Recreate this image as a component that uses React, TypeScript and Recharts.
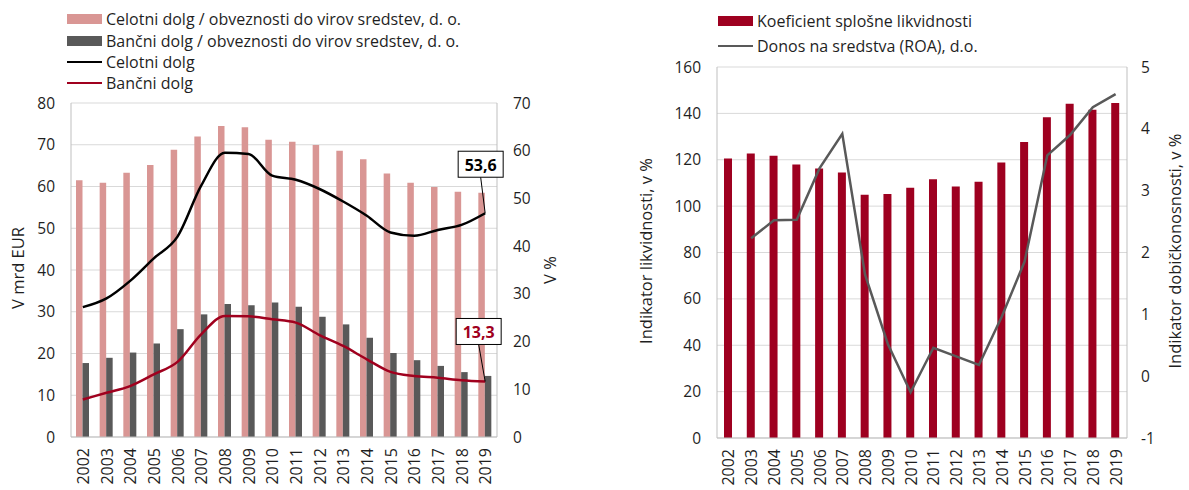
import { ComposedChart, Bar, Line, XAxis, YAxis, CartesianGrid, LabelList, Label } from 'recharts';

const years = ['2002', '2003', '2004', '2005', '2006', '2007', '2008', '2009', '2010', '2011', '2012', '2013', '2014', '2015', '2016', '2017', '2018', '2019'];

// left panel: bars in %, lines in mrd EUR
const celotniRatio = [53.8, 53.3, 55.4, 57.0, 60.2, 63.0, 65.2, 64.9, 62.3, 61.9, 61.2, 60.0, 58.2, 55.2, 53.3, 52.4, 51.4, 51.2];
const bancniRatio = [15.5, 16.6, 17.7, 19.6, 22.6, 25.7, 27.9, 27.6, 28.2, 27.3, 25.2, 23.6, 20.8, 17.6, 16.1, 14.9, 13.6, 12.8];
const celotniDolg = [31.1, 33.2, 37.4, 42.8, 48.0, 60.2, 68.1, 67.8, 62.6, 61.6, 59.4, 56.4, 53.0, 49.0, 48.2, 49.6, 50.8, 53.6];
const bancniDolg = [9.0, 10.6, 12.2, 15.0, 18.0, 24.6, 29.0, 28.9, 28.2, 27.4, 24.4, 21.8, 18.6, 15.6, 14.6, 14.2, 13.6, 13.3];

// right panel
const likvidnost = [120.5, 122.7, 121.7, 118.0, 116.2, 114.5, 104.9, 105.2, 107.9, 111.6, 108.5, 110.5, 118.8, 127.7, 138.3, 144.2, 141.6, 144.5];
const roa = [null, 2.23, 2.52, 2.53, 3.36, 3.92, 1.64, 0.52, -0.26, 0.46, 0.32, 0.18, 0.96, 1.85, 3.57, 3.9, 4.35, 4.56];

const leftTicks = [0, 10, 20, 30, 40, 50, 60, 70, 80];
const pctTicks = [0, 10, 20, 30, 40, 50, 60, 70];
const likTicks = [0, 20, 40, 60, 80, 100, 120, 140, 160];
const roaTicks = [-1, 0, 1, 2, 3, 4, 5];

const leftData = years.map((y, i) => ({
  year: y,
  celotniRatio: celotniRatio[i],
  bancniRatio: bancniRatio[i],
  celotniDolg: celotniDolg[i],
  bancniDolg: bancniDolg[i],
}));

const rightData = years.map((y, i) => ({ year: y, likvidnost: likvidnost[i], roa: roa[i] }));

const FONT = '"Open Sans", sans-serif';
const TXT = '#1f1f1f';
const GRID = '#d9d9d9';
const FRAME = '#bfbfbf';

const YearTick = (props: any) => {
  const { x, y, payload } = props;
  return (
    <g transform={`translate(${x},${y})`}>
      <text transform="rotate(-90)" x={-3} y={0} textAnchor="end" dominantBaseline="central"
        fontSize={16} fontFamily={FONT} fill={TXT}>
        {payload.value}
      </text>
    </g>
  );
};

const axisTitle = (text: string, cx: number, cy: number) => (props: any) => {
  return (
    <text x={cx} y={cy} transform={`rotate(-90, ${cx}, ${cy})`} textAnchor="middle" dominantBaseline="central"
      fontSize={16.5} fontFamily={FONT} fill={TXT}>
      {text}
    </text>
  );
};

const endLabel = (color: string, dx: number, dy: number) => (props: any) => {
  const { x, y, value, index } = props;
  if (index !== years.length - 1) return null;
  const w = 45;
  const h = 26;
  const bx = x + dx;
  const by = y + dy;
  return (
    <g>
      <line x1={bx + w / 2} y1={by + h} x2={x} y2={y} stroke="#000" strokeWidth={1} />
      <rect x={bx} y={by} width={w} height={h} fill="#fff" stroke="#000" strokeWidth={1} />
      <text x={bx + w / 2} y={by + h / 2 + 1} textAnchor="middle" dominantBaseline="central"
        fontSize={16} fontWeight={700} fontFamily={FONT} fill={color}>
        {Number(value).toFixed(1).replace('.', ',')}
      </text>
    </g>
  );
};

const tickStyle = { fontSize: 15.5, fontFamily: FONT, fill: TXT };

const LegendRow = ({ top, left, kind, color, label }: any) => (
  <div style={{ position: 'absolute', top, left, height: 22, display: 'flex', alignItems: 'center' }}>
    <div style={{ width: 35, height: kind === 'bar' ? 10 : 2.5, background: color, marginRight: 4 }} />
    <span style={{ fontSize: 16, fontFamily: FONT, color: TXT, whiteSpace: 'nowrap' }}>{label}</span>
  </div>
);

export default function App() {
  return (
    <div style={{ position: 'absolute', left: 0, top: 0, width: 1189, height: 490, background: '#fff' }}>
      <LegendRow top={8} left={67} kind="bar" color="#d99694" label="Celotni dolg / obveznosti do virov sredstev, d. o." />
      <LegendRow top={30} left={67} kind="bar" color="#595959" label="Bančni dolg / obveznosti do virov sredstev, d. o." />
      <LegendRow top={51} left={67} kind="line" color="#000" label="Celotni dolg" />
      <LegendRow top={72} left={67} kind="line" color="#a0001e" label="Bančni dolg" />

      <LegendRow top={10} left={718} kind="bar" color="#9e0020" label="Koeficient splošne likvidnosti" />
      <LegendRow top={35} left={718} kind="line" color="#595959" label="Donos na sredstva (ROA), d.o." />

      <div style={{ position: 'absolute', left: 0, top: 0 }}>
        <ComposedChart width={560} height={490} data={leftData}
          margin={{ top: 103, right: 0, bottom: 3, left: 0 }} barGap={0}>
          <CartesianGrid yAxisId="left" vertical={false} stroke={GRID} />
          <XAxis dataKey="year" height={50} tick={<YearTick />} tickLine={false} interval={0}
            axisLine={{ stroke: FRAME }} />
          <YAxis yAxisId="left" domain={[0, 80]} ticks={leftTicks} width={71} tickLine={false}
            axisLine={{ stroke: FRAME }} tick={tickStyle} tickMargin={10}>
            <Label content={axisTitle('V mrd EUR', 17, 268)} />
          </YAxis>
          <YAxis yAxisId="right" orientation="right" domain={[0, 70]} ticks={pctTicks} width={63}
            tickLine={false} axisLine={{ stroke: FRAME }} tick={{ ...tickStyle, textAnchor: 'start' }} tickMargin={10}>
            <Label content={axisTitle('V %', 549, 270)} />
          </YAxis>
          <Bar yAxisId="right" dataKey="celotniRatio" fill="#d99694" barSize={6.5} isAnimationActive={false} />
          <Bar yAxisId="right" dataKey="bancniRatio" fill="#595959" barSize={6.5} isAnimationActive={false} />
          <Line yAxisId="left" type="monotone" dataKey="celotniDolg" stroke="#000" strokeWidth={2.5}
            dot={false} isAnimationActive={false}>
            <LabelList dataKey="celotniDolg" content={endLabel('#000', -27, -62)} />
          </Line>
          <Line yAxisId="left" type="monotone" dataKey="bancniDolg" stroke="#a0001e" strokeWidth={2.5}
            dot={false} isAnimationActive={false}>
            <LabelList dataKey="bancniDolg" content={endLabel('#a0001e', -29, -63)} />
          </Line>
        </ComposedChart>
      </div>

      <div style={{ position: 'absolute', left: 600, top: 0 }}>
        <ComposedChart width={589} height={490} data={rightData}
          margin={{ top: 67, right: 0, bottom: 2, left: 0 }}>
          <CartesianGrid yAxisId="lik" vertical={false} stroke={GRID} />
          <XAxis dataKey="year" height={50} tick={<YearTick />} tickLine={false} interval={0}
            axisLine={{ stroke: FRAME }} />
          <YAxis yAxisId="lik" domain={[0, 160]} ticks={likTicks} width={117} tickLine={false}
            axisLine={{ stroke: FRAME }} tick={tickStyle} tickMargin={10}>
            <Label content={axisTitle('Indikator likvidnosti, v %', 45, 251)} />
          </YAxis>
          <YAxis yAxisId="roa" orientation="right" domain={[-1, 5]} ticks={roaTicks} width={62}
            tickLine={false} axisLine={{ stroke: FRAME }} tick={{ ...tickStyle, textAnchor: 'start' }} tickMargin={8}>
            <Label content={axisTitle('Indikator dobičkonosnosti, v %', 574, 251)} />
          </YAxis>
          <Bar yAxisId="lik" dataKey="likvidnost" fill="#9e0020" barSize={8} isAnimationActive={false} />
          <Line yAxisId="roa" type="linear" dataKey="roa" stroke="#595959" strokeWidth={2.5}
            dot={false} isAnimationActive={false} />
        </ComposedChart>
      </div>
    </div>
  );
}
